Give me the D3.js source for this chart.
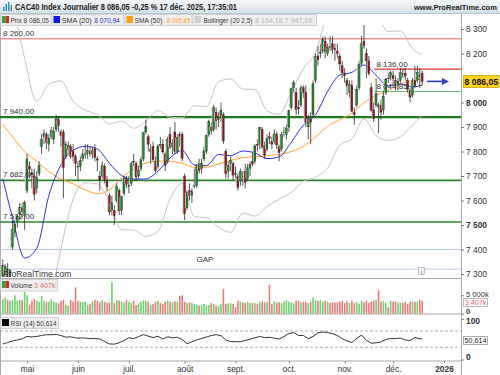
<!DOCTYPE html>
<html><head><meta charset="utf-8">
<script src="https://cdn.jsdelivr.net/npm/d3@7"></script>
<style>
html,body{margin:0;padding:0;background:#fff;}
svg{display:block;font-family:"Liberation Sans",Arial,sans-serif;}
</style></head><body>
<svg id="c" width="500" height="375"></svg>
<script>
// ---------------- DATA ----------------
const startDate = "2025-04-15";
const holidays = ["2025-04-18","2025-04-21","2025-05-01","2025-12-25","2025-12-26","2026-01-01"];

const opens = [7290,7300,7320,7290,7410,7470,7510,7545,7570,7540,
7640,7740,7710,7700,7650,7710,7820,7860,7870,7830,
7860,7850,7890,7930,7880,7880,7780,7810,7820,7800,
7780,7740,7740,7770,7790,7790,7800,7790,7810,7770,
7700,7700,7740,7680,7620,7560,7560,7600,7640,7560,
7630,7690,7660,7670,7760,7750,7700,7730,7770,7880,
7860,7800,7820,7760,7740,7830,7830,7790,7760,7870,
7820,7880,7800,7870,7870,7700,7570,7640,7620,7660,
7660,7750,7730,7770,7800,7870,7900,7890,7960,7930,
7940,7950,7800,7720,7750,7750,7710,7700,7680,7700,
7720,7690,7730,7760,7760,7830,7830,7890,7820,7810,
7860,7840,7840,7870,7820,7810,7880,7870,7900,7980,
8060,8040,7980,7990,8060,8040,7900,7930,7950,8090,
8190,8200,8210,8250,8200,8230,8240,8220,8210,8190,
8150,8120,8090,8040,8070,7960,7990,8060,8160,8250,
8200,8170,8060,7970,7990,7990,7990,7970,8040,8100,
8100,8110,8090,8070,8090,8120,8120,8090,8050,8030,
8090,8090,8110,8120];
const highs = [7360,7340,7345,7320,7520,7520,7545,7590,7590,7600,
7790,7760,7730,7730,7720,7760,7870,7890,7880,7870,
7900,7900,7950,7945,7890,7890,7840,7840,7830,7830,
7790,7760,7780,7810,7830,7830,7820,7820,7830,7780,
7720,7760,7750,7700,7630,7620,7580,7670,7650,7620,
7700,7700,7700,7760,7790,7760,7740,7780,7880,7930,
7870,7830,7840,7780,7830,7860,7850,7800,7860,7900,
7850,7920,7870,7880,7880,7710,7640,7670,7650,7730,
7750,7770,7770,7820,7870,7930,7920,7990,7980,7960,
8000,7960,7810,7760,7780,7760,7740,7710,7730,7720,
7750,7750,7760,7800,7830,7850,7900,7900,7840,7870,
7880,7860,7890,7880,7830,7880,7900,7910,7970,8060,
8090,8060,8010,8070,8070,8070,7950,7960,8090,8200,
8230,8240,8270,8270,8240,8270,8270,8240,8240,8200,
8170,8140,8100,8090,8090,7980,8070,8170,8271,8316,
8220,8190,8080,8000,8100,8000,8010,8050,8100,8120,
8130,8130,8110,8100,8140,8140,8140,8100,8060,8100,
8150,8150,8140,8130];
const lows = [7280,7260,7270,7240,7400,7450,7490,7520,7530,7480,
7630,7690,7650,7600,7630,7700,7790,7830,7810,7800,
7850,7830,7880,7880,7820,7610,7770,7790,7770,7760,
7700,7680,7720,7760,7770,7770,7780,7770,7760,7720,
7640,7690,7670,7640,7540,7540,7500,7590,7540,7540,
7620,7650,7630,7660,7740,7680,7690,7720,7760,7870,
7800,7750,7760,7715,7730,7810,7790,7720,7750,7810,
7790,7790,7790,7820,7760,7520,7560,7600,7590,7650,
7650,7710,7710,7760,7790,7860,7870,7880,7890,7900,
7920,7830,7690,7690,7720,7680,7690,7640,7660,7660,
7650,7680,7700,7740,7750,7800,7810,7810,7770,7800,
7830,7810,7830,7810,7760,7800,7860,7850,7880,7970,
8040,7950,7950,7980,8020,7900,7850,7830,7940,8080,
8150,8180,8200,8180,8190,8210,8200,8170,8180,8130,
8100,8080,8030,8020,7960,7910,7980,8050,8150,8220,
8100,8110,7960,7920,7980,7875,7930,7950,8030,8080,
8090,8070,8050,8050,8080,8100,8090,8040,8000,8020,
8060,8080,8060,8070];
const closes = [7335,7330,7285,7316,7482,7503,7536,7573,7555,7593,
7770,7728,7705,7626,7694,7743,7850,7873,7836,7853,
7886,7883,7940,7907,7865,7734,7828,7826,7779,7780,
7751,7737,7763,7790,7790,7804,7791,7804,7775,7765,
7684,7742,7683,7656,7553,7590,7538,7656,7558,7615,
7692,7666,7662,7750,7756,7696,7723,7766,7878,7902,
7829,7808,7766,7722,7822,7823,7798,7744,7850,7818,
7834,7800,7857,7861,7772,7546,7632,7621,7636,7661,
7743,7722,7753,7804,7866,7923,7885,7979,7926,7938,
7969,7843,7709,7743,7762,7703,7707,7654,7719,7698,
7674,7734,7749,7749,7823,7825,7897,7818,7786,7854,
7853,7830,7872,7827,7795,7870,7880,7896,7966,8056,
8081,7971,7974,8060,8041,7918,7934,7919,8077,8188,
8174,8206,8258,8207,8226,8225,8215,8216,8200,8157,
8121,8109,8067,8074,7964,7950,8055,8156,8241,8232,
8170,8119,7967,7935,8036,7982,7960,8025,8096,8099,
8122,8097,8074,8087,8122,8114,8108,8053,8022,8086,
8069,8124,8106,8086.05];
// volume in thousands
const volumes = [3950,4390,3770,3510,3770,5000,3510,3770,3680,5880,
5000,2460,3510,3950,3510,3250,4820,3510,3250,3250,
3950,3250,3070,2810,3510,3770,2460,2190,3770,3250,
7190,3510,3250,3070,3250,2370,2630,3250,3680,3510,
3070,3680,3250,2890,3070,8600,2890,3680,3510,3250,
3070,3680,3250,2890,3510,2370,2810,3250,3680,3510,
3250,2370,2630,3250,3510,2890,2630,3250,3510,3250,
3070,3330,3250,4820,5000,3250,2890,3070,2890,2630,
2460,2190,2370,2630,2190,2370,2890,2630,2190,2020,
2630,6750,2630,2810,2800,2630,1750,3510,3250,3070,
2890,3250,2890,2890,2810,2720,3070,3250,3070,3250,
7890,2630,3250,3070,3070,2890,3250,3680,3250,3070,
2810,3510,3510,3070,3250,3250,2890,3250,4390,3770,
3510,3770,3250,3510,3250,2890,3070,3070,3070,3250,
3510,2890,3330,2890,3510,2890,3070,2630,3510,3070,
3510,2890,3250,3510,3770,6400,3250,3510,2890,1750,
3510,3250,3250,3070,2890,2890,3250,2630,3250,3250,
3250,3250,3770,3407];

// indicator lines (day index of each reading)
const sampleDays = [0,4,9,14,19,24,29,34,39,44,49,54,59,64,69,74,79,84,89,94,99,104,109,114,119,124,129,134,139,144,149,154,159,164,169,173];
const sma20 = [7690,7530,7365,7405,7620,7746,7805,7821,7810,7752,7702,7687,7688,7720,7774,7804,7745,7742,7788,7783,7802,7794,7771,7778,7838,7908,7950,8045,8112,8123,8153,8111,8068,8076,8064,8070.94];
const sma50 = [7910,7860,7800,7760,7718,7688,7668,7643,7628,7643,7693,7729,7753,7761,7759,7752,7735,7736,7750,7764,7775,7779,7783,7788,7800,7821,7859,7903,7930,7956,7999,8029,8049,8076,8090,8095.85];
const bbUpper = [8650,8420,8180,8005,8075,8088,8005,7969,7951,7912,7924,7895,7923,7966,7940,7938,7986,7984,8085,8096,8055,8053,7966,7952,8043,8138,8205,8357,8398,8395,8373,8356,8290,8292,8220,8194.18];
const bbLower = [6730,6640,6580,6805,7143,7403,7606,7672,7668,7592,7481,7479,7454,7474,7607,7669,7534,7530,7491,7470,7549,7536,7576,7605,7633,7678,7695,7733,7827,7851,7933,7865,7845,7861,7908,7947.69];

const rsiDays = [0,2,4,6,8,10,12,14,16,18,20,22,24,26,28,30,32,34,36,38,40,42,44,46,48,50,52,54,56,58,60,62,64,66,68,70,72,74,76,78,80,82,84,86,88,90,92,94,96,98,100,102,104,106,108,110,112,114,116,118,120,122,124,126,128,130,132,134,136,138,140,142,144,146,148,150,152,154,156,158,160,162,164,166,168,170,172,173];
const rsi = [38.2,41.8,45.5,48,50.9,56.6,55.3,56.6,59,61,60.7,61.5,59,54.8,55.8,52.9,52.9,52.9,51.2,51.7,50.4,44.3,38.2,37.7,41.1,46.7,53.4,51.4,56.1,61.2,57.3,53.9,57,50.4,55.8,53.4,54.6,49.2,38.7,43.6,48,51.7,55.3,59,61,59,48,44.3,43.8,43.6,46.7,49.7,53.4,56.6,53.6,54.6,52.4,50.4,56.6,63.9,66,59,59,51.4,56.6,65.6,67.6,66.4,63.4,59,51.2,45.5,41.8,52,60,47,39.9,41.1,43.1,49.2,51.9,51.2,52.6,48,46.7,54.1,50.9,50.614];

const priceTicks = [8300,8200,8000,7900,7800,7700,7600,7500,7400,7300];
const volumeTicks = [0,5000];
const rsiTicks = [0,100];
const rsiBands = [70,30];
const monthLabels = ["mai","juin","juil.","août","sept.","oct.","nov.","déc.","2026"];
const monthStarts = ["2025-05","2025-06","2025-07","2025-08","2025-09","2025-10","2025-11","2025-12","2026-01"];
const fullLevels = [8260, 7940, 7682, 7512];
const fullLevelLabels = ["8 260,00","7 940,00","7 682,00","7 512,00"];
const shortLevels = [8136, 8044.85];
const shortLevelLabels = ["8 136,00","8 044,85"];
const gapZone = [7400, 7320];

const title = "CAC40 Index Journalier 8 086,05 -0,25 % 17 déc. 2025, 17:35:01";
const lastPrice = 8086.05, lastVolume = 3407, lastRsi = 50.614;

// ---------------- CALENDAR ----------------
const N = closes.length;
const parse = d3.utcParse("%Y-%m-%d"), fmtD = d3.utcFormat("%Y-%m-%d"), fmtM = d3.utcFormat("%Y-%m");
const days = [];
for (let d = parse(startDate); days.length < N + 14; d = d3.utcDay.offset(d, 1)) {
  const wd = d.getUTCDay();
  if (wd === 0 || wd === 6 || holidays.includes(fmtD(d))) continue;
  days.push(d);
}
const monthIdx = monthStarts.map(m => days.findIndex(d => fmtM(d) === m));

// ---------------- FORMAT ----------------
const loc = d3.formatLocale({decimal: ",", thousands: " ", grouping: [3], currency: ["", ""]});
const fInt = loc.format(",d"), f2 = loc.format(",.2f"), f3 = loc.format(",.3f");

// ---------------- SCALES ----------------
const svg = d3.select("#c");
const RIGHT = 461;
const x = d3.scaleLinear().domain([0, N - 1]).range([2.8, 422.2]);
const y = d3.scaleLinear().domain([7300, 8300]).range([274, 29]);
const yv = d3.scaleLinear().domain([0, 5000]).range([313.6, 295.3]);
const yr = d3.scaleLinear().domain([0, 100]).range([359.5, 318.8]);

const defs = svg.append("defs");
const grad = defs.append("linearGradient").attr("id", "hdr").attr("x1", 0).attr("x2", 0).attr("y1", 0).attr("y2", 1);
grad.append("stop").attr("offset", "0%").attr("stop-color", "#f3f7f9");
grad.append("stop").attr("offset", "100%").attr("stop-color", "#d4e0e7");
defs.append("clipPath").attr("id", "pclip").append("rect").attr("x", 0).attr("y", 25).attr("width", RIGHT).attr("height", 252);
defs.append("clipPath").attr("id", "vclip").append("rect").attr("x", 0).attr("y", 279).attr("width", RIGHT).attr("height", 35);

// text helpers
function fitText(x0, y0, s, color, len, maxFont, weight) {
  const t = svg.append("text").attr("x", x0).attr("y", y0).attr("font-size", 10).attr("fill", color)
    .attr("font-weight", weight || "normal").text(s);
  const w = t.node().getComputedTextLength();
  const fs = Math.min(maxFont, 10 * len / w);
  t.attr("font-size", fs.toFixed(2));
  if (fs === maxFont) t.attr("textLength", len).attr("lengthAdjust", "spacingAndGlyphs");
  return t;
}
function txt(x0, y0, s, color, len, fs) {
  return svg.append("text").attr("x", x0).attr("y", y0).attr("font-size", fs).attr("fill", color)
    .attr("textLength", len).attr("lengthAdjust", "spacingAndGlyphs").text(s);
}

// header
svg.append("rect").attr("x", 0).attr("y", 0).attr("width", 500).attr("height", 13).attr("fill", "url(#hdr)");
svg.append("line").attr("x1", 0).attr("x2", 500).attr("y1", 13.5).attr("y2", 13.5).attr("stroke", "#b5c5cf");
const icon = svg.append("g");
[[3,7,1.5,4,"#2f8fd8"],[5.5,4,1.5,7,"#2f8fd8"],[8,2,1.5,9,"#2f8fd8"],[10.5,5,1.5,6,"#4aa84a"]].forEach(r =>
  icon.append("rect").attr("x", r[0]).attr("y", r[1]).attr("width", r[2]).attr("height", r[3]).attr("fill", r[4]));
svg.append("text").attr("x", 15).attr("y", 10).attr("font-size", 8.6).attr("font-weight", "bold").attr("fill", "#222")
  .attr("textLength", 222).attr("lengthAdjust", "spacingAndGlyphs").text(title);
fitText(414, 10, "www.ProRealTime.com", "#222", 83, 8.6, "bold");

// panel frame
const frame = svg.append("g").attr("stroke", "#a8a8a8").attr("fill", "none");
frame.append("line").attr("x1", 0.5).attr("x2", 0.5).attr("y1", 14).attr("y2", 375);
frame.append("line").attr("x1", RIGHT + 0.5).attr("x2", RIGHT + 0.5).attr("y1", 14).attr("y2", 375);
[278.5, 314, 361].forEach(v => frame.append("line").attr("x1", 0).attr("x2", RIGHT).attr("y1", v).attr("y2", v));

// ---------------- PRICE PANEL ----------------
const pg = svg.append("g").attr("clip-path", "url(#pclip)");
gapZone.forEach(v => pg.append("line").attr("x1", 0).attr("x2", RIGHT).attr("y1", y(v)).attr("y2", y(v)).attr("stroke", "#bccaf3").attr("stroke-width", 1));
const fullStyles = [["#f29595", 1.6], ["#1e7b1e", 2.2], ["#2b862b", 1.6], ["#2b862b", 1.6]];
fullLevels.forEach((v, i) => pg.append("line").attr("x1", 0).attr("x2", RIGHT).attr("y1", y(v)).attr("y2", y(v))
  .attr("stroke", fullStyles[i][0]).attr("stroke-width", fullStyles[i][1]));
const shortStyles = [["#e0332c", 1.2], ["#6cc56c", 1.2]];
shortLevels.forEach((v, i) => pg.append("line").attr("x1", x(153.3)).attr("x2", RIGHT).attr("y1", y(v)).attr("y2", y(v))
  .attr("stroke", shortStyles[i][0]).attr("stroke-width", shortStyles[i][1]));

const lineOf = arr => d3.line().x((d, i) => x(sampleDays[i])).y(d => y(d)).curve(d3.curveMonotoneX)(arr);
pg.append("path").attr("d", lineOf(bbUpper)).attr("fill", "none").attr("stroke", "#c4c4c4").attr("stroke-width", 1);
pg.append("path").attr("d", lineOf(bbLower)).attr("fill", "none").attr("stroke", "#c4c4c4").attr("stroke-width", 1);
pg.append("path").attr("d", lineOf(sma50)).attr("fill", "none").attr("stroke", "#ffa12a").attr("stroke-width", 1);
pg.append("path").attr("d", lineOf(sma20)).attr("fill", "none").attr("stroke", "#2a2ee6").attr("stroke-width", 1);

const cw = 1.8;
const cg = pg.append("g");
d3.range(N).forEach(i => {
  const up = closes[i] >= opens[i];
  const top = y(Math.max(opens[i], closes[i])), bot = y(Math.min(opens[i], closes[i]));
  cg.append("rect").attr("x", x(i) - cw / 2 - 1.2).attr("y", top).attr("width", 1.2).attr("height", Math.max(0.8, bot - top)).attr("fill", "#c2c2c2");
  cg.append("line").attr("x1", x(i)).attr("x2", x(i)).attr("y1", y(highs[i])).attr("y2", y(lows[i])).attr("stroke", "#2a2a2a").attr("stroke-width", 0.8);
  cg.append("rect").attr("x", x(i) - cw / 2).attr("y", top).attr("width", cw).attr("height", Math.max(0.8, bot - top))
    .attr("fill", up ? "#1f8c24" : "#9b1418").attr("stroke", "#1a1a1a").attr("stroke-width", 0.3);
});

fullLevels.forEach((v, i) => svg.append("text").attr("x", 3).attr("y", y(v) - 3).attr("font-size", 8).attr("fill", "#333").text(fullLevelLabels[i]));
shortLevels.forEach((v, i) => svg.append("text").attr("x", x(153.3) + 2).attr("y", y(v) - 2.5).attr("font-size", 8).attr("fill", "#333").text(shortLevelLabels[i]));
svg.append("text").attr("x", 205).attr("y", y(7360) + 3).attr("text-anchor", "middle").attr("font-size", 8).attr("fill", "#333").text("GAP");
svg.append("text").attr("x", 3).attr("y", 276.5).attr("font-size", 8.6).attr("fill", "#333").text("ProRealTime.com");
svg.append("rect").attr("x", 418.5).attr("y", 267.5).attr("width", 6).attr("height", 7).attr("fill", "#f2f2f2").attr("stroke", "#999").attr("stroke-width", 0.6);
svg.append("text").attr("x", 421.5).attr("y", 273.5).attr("text-anchor", "middle").attr("font-size", 5.5).attr("fill", "#555").text("i");

const ay = y(lastPrice);
svg.append("line").attr("x1", 427).attr("x2", 443).attr("y1", ay).attr("y2", ay).attr("stroke", "#2b3ccf").attr("stroke-width", 1.6);
svg.append("path").attr("d", `M${449},${ay} L${442},${ay - 3.5} L${442},${ay + 3.5} Z`).attr("fill", "#2b3ccf");

const pax = svg.append("g").attr("transform", `translate(${RIGHT},0)`)
  .call(d3.axisRight(y).tickValues(priceTicks).tickSize(3).tickPadding(2).tickFormat(fInt));
pax.select(".domain").remove();
pax.selectAll("line").attr("stroke", "#777");
pax.selectAll("text").attr("font-size", 8.4).attr("fill", "#333").attr("font-family", "Liberation Sans, Arial, sans-serif")
  .attr("font-weight", d => (d === 8000 || d === 7500) ? "bold" : "normal");
svg.append("rect").attr("x", 463.5).attr("y", ay - 6).attr("width", 35.5).attr("height", 12).attr("fill", "#ffd322").attr("stroke", "#c8a400").attr("stroke-width", 0.8);
svg.append("text").attr("x", 481.3).attr("y", ay + 3.2).attr("text-anchor", "middle").attr("font-size", 8.6).attr("font-weight", "bold").attr("fill", "#111").text(f2(lastPrice));

// ---------------- LEGEND ROW ----------------
function box(x0, y0, w, h) {
  svg.append("rect").attr("x", x0 + 0.5).attr("y", y0 + 0.5).attr("width", w).attr("height", h).attr("fill", "#efefef").attr("stroke", "#c6c6c6").attr("stroke-width", 0.8);
}
box(0, 14, 50.5, 11); box(51.5, 14, 72, 11); box(124.5, 14, 67, 11); box(192.5, 14, 123.5, 11);
svg.append("rect").attr("x", 2).attr("y", 16).attr("width", 3.5).attr("height", 7).attr("fill", "#2aa82a");
svg.append("rect").attr("x", 5.5).attr("y", 16).attr("width", 3.5).attr("height", 7).attr("fill", "#d42a2a");
svg.append("rect").attr("x", 53.5).attr("y", 16).attr("width", 6.5).attr("height", 7).attr("fill", "#1515e8");
svg.append("rect").attr("x", 126.5).attr("y", 16).attr("width", 6.5).attr("height", 7).attr("fill", "#ff9a1a");
svg.append("rect").attr("x", 194.5).attr("y", 16).attr("width", 6.5).attr("height", 7).attr("fill", "#cfcfcf");
txt(10.5, 22.8, "Prix " + f2(lastPrice), "#333", 38.5, 7.6);
txt(61.7, 22.8, "SMA (20)", "#333", 30, 7.6);
txt(94.2, 22.8, f2(sma20[sma20.length - 1]), "#2a2ee6", 25.5, 7.6);
txt(134.5, 22.8, "SMA (50)", "#333", 28, 7.6);
txt(166.8, 22.8, f2(sma50[sma50.length - 1]), "#ff9a1a", 23.5, 7.6);
fitText(203.5, 22.8, "Bollinger (20 2,5)", "#333", 49, 7.6);
txt(255, 22.8, f2(bbUpper[bbUpper.length - 1]) + " " + f2(bbLower[bbLower.length - 1]), "#b4b4b4", 57.5, 7.6);

// ---------------- VOLUME PANEL ----------------
const vg = svg.append("g").attr("clip-path", "url(#vclip)");
d3.range(N).forEach(i => {
  const up = closes[i] >= opens[i];
  vg.append("rect").attr("x", x(i) - 0.8).attr("y", yv(volumes[i])).attr("width", 1.6).attr("height", yv(0) - yv(volumes[i]))
    .attr("fill", up ? "#6fd06f" : "#e67b7b");
});
box(0, 279, 57, 11.5);
svg.append("rect").attr("x", 2).attr("y", 281).attr("width", 3.5).attr("height", 7).attr("fill", "#2aa82a");
svg.append("rect").attr("x", 5.5).attr("y", 281).attr("width", 3.5).attr("height", 7).attr("fill", "#d42a2a");
fitText(10.5, 288, "Volume", "#333", 22, 7.6);
txt(34, 288, fInt(lastVolume) + "k", "#e06a6a", 21.5, 7.6);
const vax = svg.append("g").attr("transform", `translate(${RIGHT},0)`)
  .call(d3.axisRight(yv).tickValues(volumeTicks).tickSize(3).tickPadding(2).tickFormat(d => d === 0 ? "0" : fInt(d) + "k"));
vax.select(".domain").remove();
vax.selectAll("line").attr("stroke", "#777");
vax.selectAll("text").attr("font-size", 7.6).attr("fill", "#333").attr("font-family", "Liberation Sans, Arial, sans-serif")
  .attr("font-weight", d => d === 0 ? "bold" : "normal")
  .attr("dy", d => d === 0 ? "0.05em" : "0.1em");
svg.append("rect").attr("x", 463.5).attr("y", 298.5).attr("width", 24).attr("height", 8).attr("fill", "#fff").attr("stroke", "#aaa").attr("stroke-width", 0.8);
svg.append("text").attr("x", 475.5).attr("y", 305.1).attr("text-anchor", "middle").attr("font-size", 7.2).attr("fill", "#e06a6a").text(fInt(lastVolume) + "k");

// ---------------- RSI PANEL ----------------
rsiBands.forEach(v => svg.append("line").attr("x1", 0).attr("x2", RIGHT).attr("y1", yr(v)).attr("y2", yr(v))
  .attr("stroke", "#9a9a9a").attr("stroke-width", 0.8).attr("stroke-dasharray", "3,2"));
svg.append("path").attr("d", d3.line().x((d, i) => x(rsiDays[i])).y(d => yr(d))(rsi))
  .attr("fill", "none").attr("stroke", "#333").attr("stroke-width", 1);
box(0, 317, 58, 11);
svg.append("rect").attr("x", 2).attr("y", 319).attr("width", 7).attr("height", 7).attr("fill", "#000");
txt(10.5, 325.8, "RSI (14) " + f3(lastRsi), "#333", 46, 7.6);
const rax = svg.append("g").attr("transform", `translate(${RIGHT},0)`)
  .call(d3.axisRight(yr).tickValues(rsiTicks).tickSize(3).tickPadding(2).tickFormat(d => String(d)));
rax.select(".domain").remove();
rax.selectAll("line").attr("stroke", "#777");
rax.selectAll("text").attr("font-size", 8.4).attr("font-weight", "bold").attr("fill", "#333").attr("font-family", "Liberation Sans, Arial, sans-serif")
  .attr("dy", d => d === 0 ? "0.05em" : "0.6em");
svg.append("rect").attr("x", 463.5).attr("y", yr(lastRsi) - 2.5).attr("width", 24).attr("height", 8).attr("fill", "#fff").attr("stroke", "#999").attr("stroke-width", 0.8);
svg.append("text").attr("x", 475.5).attr("y", yr(lastRsi) + 4.2).attr("text-anchor", "middle").attr("font-size", 7.2).attr("fill", "#222").text(f3(lastRsi));

// ---------------- X AXIS ----------------
const xax = svg.append("g").attr("transform", "translate(0,361)")
  .call(d3.axisBottom(x).tickValues(monthIdx).tickSize(2.5).tickPadding(3).tickFormat((d, i) => monthLabels[i]));
xax.select(".domain").remove();
xax.selectAll("line").attr("stroke", "#888");
xax.selectAll("text").attr("font-size", 8.4).attr("fill", "#333").attr("font-family", "Liberation Sans, Arial, sans-serif")
  .attr("font-weight", (d, i) => monthLabels[i] === "2026" ? "bold" : "normal");
</script>
</body></html>
